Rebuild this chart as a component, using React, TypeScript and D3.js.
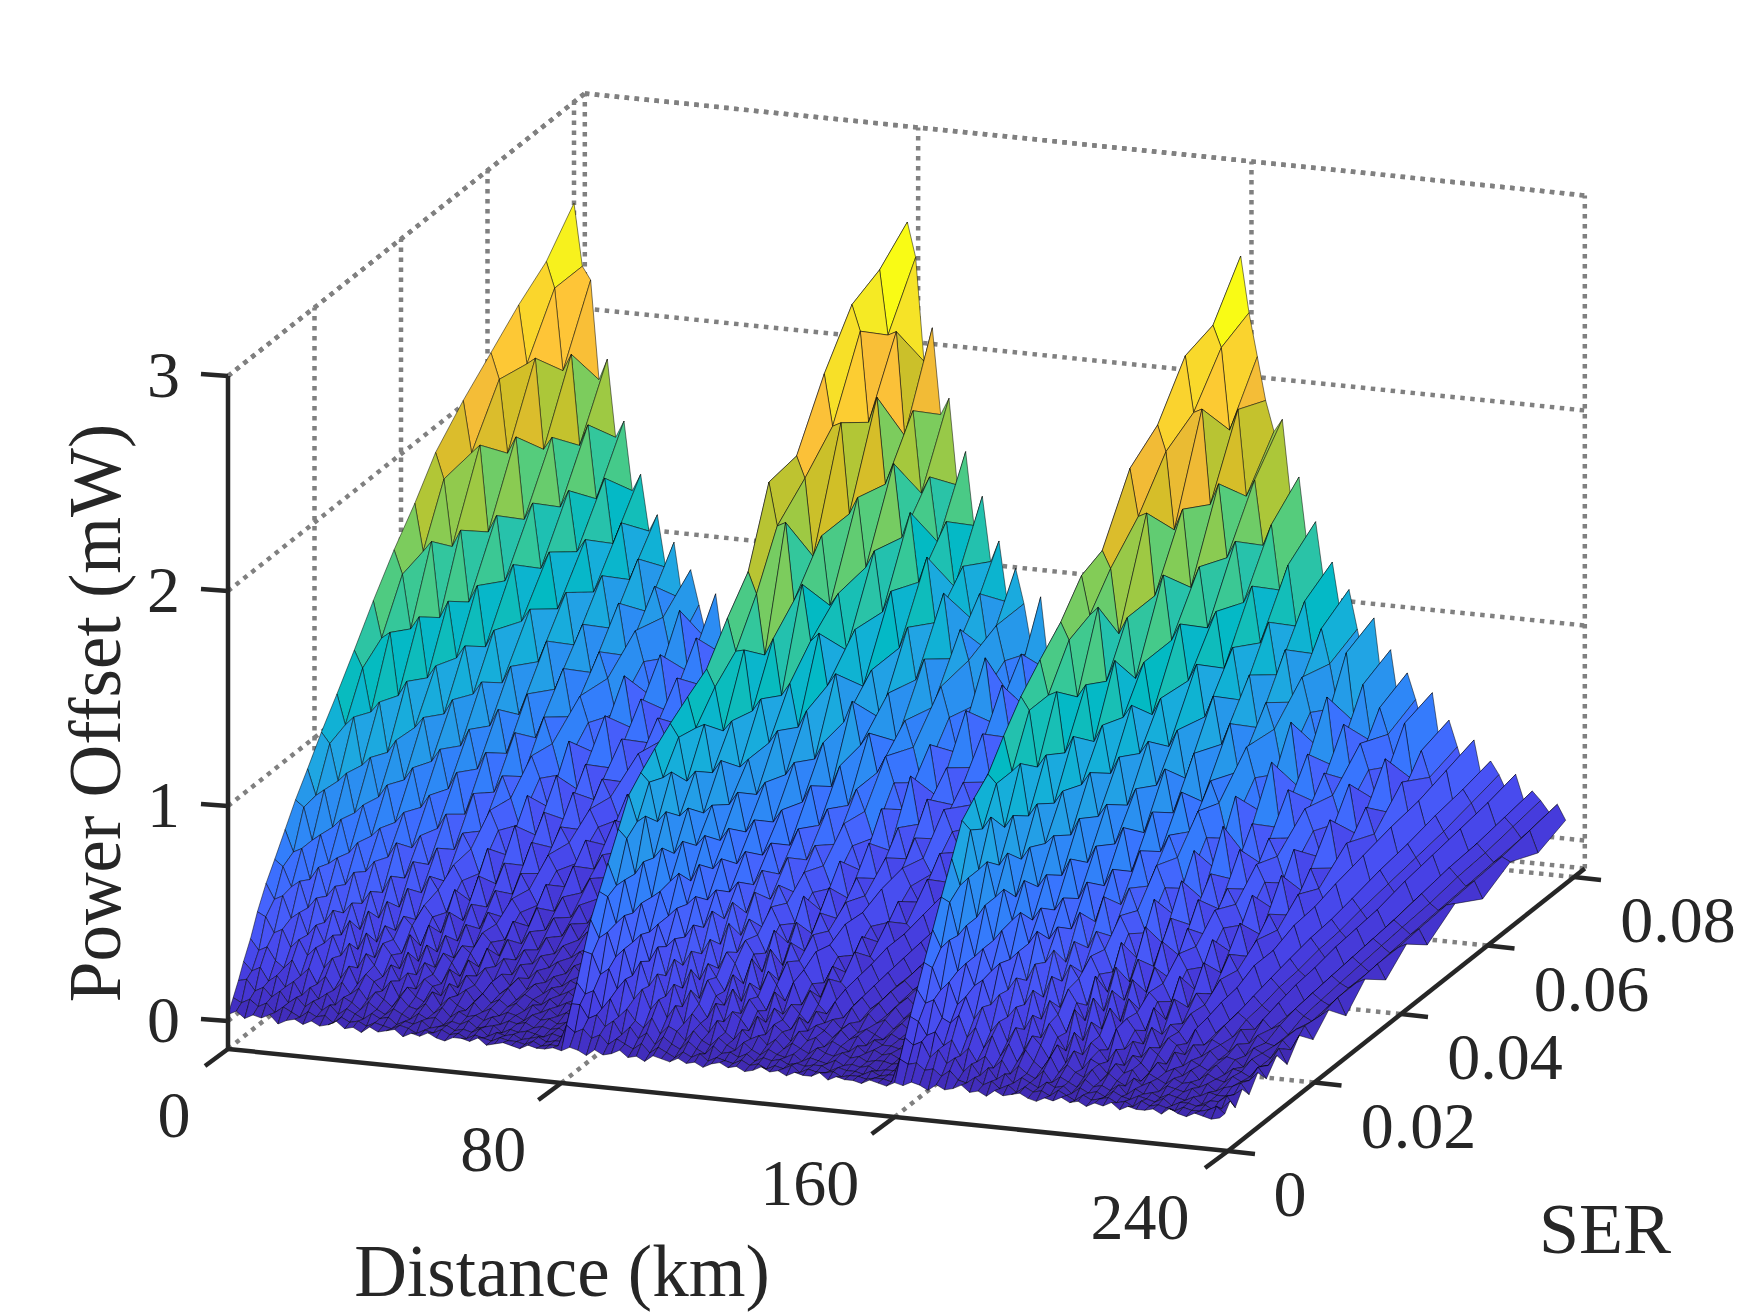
import React from 'react';
import * as d3 from 'd3';

// --- Data ---
const distanceKm = [
  0, 2, 4, 6, 8, 10, 12, 14, 16, 18, 20, 22, 24, 26, 28, 30, 32, 34, 36, 38,
  40, 42, 44, 46, 48, 50, 52, 54, 56, 58, 60, 62, 64, 66, 68, 70, 72, 74, 76, 78,
  80, 82, 84, 86, 88, 90, 92, 94, 96, 98, 100, 102, 104, 106, 108, 110, 112, 114, 116, 118,
  120, 122, 124, 126, 128, 130, 132, 134, 136, 138, 140, 142, 144, 146, 148, 150, 152, 154, 156, 158,
  160, 162, 164, 166, 168, 170, 172, 174, 176, 178, 180, 182, 184, 186, 188, 190, 192, 194, 196, 198,
  200, 202, 204, 206, 208, 210, 212, 214, 216, 218, 220, 222, 224, 226, 228, 230, 232, 234, 236, 238,
];
const serValues = [
  0, 0.0012, 0.0024, 0.0036, 0.0052, 0.0068, 0.0088, 0.0108, 0.0132, 0.0156, 0.0184, 0.0216,
  0.0252, 0.0292, 0.0336, 0.0384, 0.0432, 0.048, 0.0544, 0.0608, 0.0672, 0.0736, 0.08,
];

const powerSpan1 = [
  [.03,.05,.02,.04,.03,.05,.01,.03,.04,.02,.04,.02,.03,.05,.02,.03,.01,.04,.02,.03,.04,.01,.03,.02,.04,.02,.01,.03,.03,.02,.04,.01,.02,.03,.02,.01,.03,.02,.02,.03],
  [.09,.07,.09,.06,.08,.04,.07,.05,.03,.06,.04,.05,.02,.05,.03,.04,.02,.04,.03,.02,.04,.03,.01,.03,.02,.04,.02,.03,.01,.03,.02,.01,.03,.02,.02,.01,.03,.01,.02,.02],
  [.15,.16,.11,.13,.09,.12,.07,.10,.06,.09,.05,.08,.04,.07,.05,.03,.06,.04,.05,.02,.04,.03,.05,.02,.03,.04,.02,.03,.02,.04,.01,.03,.02,.03,.01,.02,.03,.01,.02,.02],
  [.22,.18,.20,.14,.17,.12,.15,.09,.13,.08,.11,.06,.10,.08,.05,.09,.06,.04,.07,.05,.03,.06,.04,.05,.02,.04,.03,.05,.02,.03,.04,.01,.03,.02,.03,.02,.01,.03,.02,.02],
  [.30,.25,.27,.21,.18,.22,.15,.19,.12,.16,.10,.14,.09,.12,.07,.11,.08,.05,.10,.06,.05,.08,.04,.07,.03,.06,.04,.05,.03,.05,.02,.04,.03,.04,.02,.03,.02,.03,.01,.02],
  [.40,.38,.31,.33,.25,.29,.22,.26,.17,.22,.13,.19,.11,.16,.13,.09,.14,.07,.12,.08,.06,.11,.05,.09,.06,.04,.08,.04,.06,.03,.05,.04,.02,.05,.03,.04,.02,.03,.02,.02],
  [.50,.43,.45,.35,.38,.28,.33,.25,.29,.20,.26,.15,.22,.17,.12,.18,.11,.15,.08,.13,.10,.06,.12,.07,.10,.05,.09,.05,.07,.04,.06,.03,.06,.03,.05,.02,.04,.03,.02,.03],
  [.58,.55,.46,.49,.37,.42,.31,.37,.26,.33,.20,.28,.17,.24,.19,.13,.21,.11,.17,.12,.08,.15,.07,.13,.09,.05,.11,.06,.09,.04,.07,.05,.03,.06,.03,.05,.04,.02,.04,.02],
  [.68,.58,.60,.46,.52,.39,.44,.32,.37,.25,.34,.20,.28,.22,.16,.25,.13,.21,.11,.18,.14,.08,.16,.09,.13,.07,.11,.06,.10,.05,.08,.04,.07,.04,.06,.03,.05,.03,.03,.03],
  [.78,.75,.60,.63,.50,.53,.41,.47,.33,.39,.27,.35,.22,.29,.25,.16,.26,.14,.22,.12,.18,.15,.09,.18,.10,.14,.07,.12,.06,.10,.05,.08,.04,.07,.05,.03,.06,.03,.04,.03],
  [.88,.76,.79,.62,.66,.51,.56,.43,.48,.34,.42,.28,.37,.23,.30,.25,.18,.28,.15,.23,.13,.20,.16,.10,.18,.09,.14,.08,.12,.07,.10,.05,.09,.05,.07,.04,.06,.04,.05,.03],
  [1.00,.95,.78,.82,.64,.68,.54,.58,.45,.52,.36,.44,.30,.38,.32,.22,.33,.19,.27,.16,.24,.19,.12,.21,.11,.17,.09,.15,.08,.12,.07,.10,.06,.09,.05,.07,.04,.06,.04,.04],
  [1.12,.98,1.02,.80,.84,.66,.72,.55,.60,.44,.50,.37,.45,.30,.38,.31,.22,.34,.20,.28,.16,.25,.19,.13,.22,.12,.18,.10,.16,.09,.13,.07,.11,.06,.09,.05,.08,.05,.06,.04],
  [1.26,1.18,.98,1.03,.80,.86,.68,.74,.56,.62,.47,.54,.38,.46,.39,.28,.40,.24,.34,.20,.30,.23,.16,.26,.14,.21,.12,.18,.10,.15,.09,.12,.08,.11,.07,.09,.06,.07,.05,.05],
  [1.42,1.25,1.28,.99,1.06,.85,.90,.70,.76,.58,.66,.47,.57,.40,.50,.41,.30,.44,.26,.37,.23,.32,.25,.18,.28,.16,.23,.14,.19,.12,.16,.10,.14,.09,.11,.07,.09,.06,.07,.05],
  [1.58,1.47,1.22,1.28,1.00,1.06,.84,.91,.70,.78,.60,.68,.50,.58,.48,.36,.50,.32,.43,.27,.37,.30,.21,.32,.19,.26,.16,.22,.14,.19,.12,.16,.11,.13,.09,.11,.08,.09,.06,.07],
  [1.72,1.50,1.55,1.20,1.28,1.02,1.08,.86,.92,.72,.80,.60,.70,.50,.60,.50,.37,.52,.32,.45,.28,.38,.30,.22,.34,.20,.28,.17,.24,.15,.20,.13,.17,.11,.14,.09,.12,.08,.09,.06],
  [1.88,1.76,1.45,1.53,1.20,1.28,1.00,1.08,.84,.92,.70,.80,.60,.70,.58,.44,.60,.38,.50,.34,.44,.36,.26,.38,.23,.32,.19,.27,.16,.23,.14,.19,.13,.16,.11,.13,.09,.11,.08,.08],
  [2.02,1.78,1.82,1.42,1.50,1.20,1.28,1.02,1.08,.84,.94,.72,.82,.60,.70,.58,.44,.62,.38,.52,.32,.46,.36,.26,.38,.24,.33,.20,.28,.18,.23,.15,.20,.13,.17,.11,.14,.09,.11,.08],
  [2.14,2.02,1.68,1.76,1.38,1.46,1.16,1.24,.98,1.06,.82,.92,.70,.80,.68,.52,.70,.46,.60,.40,.52,.43,.31,.46,.28,.38,.24,.32,.20,.28,.17,.23,.15,.20,.13,.16,.11,.13,.09,.10],
  [2.26,1.99,2.02,1.60,1.66,1.34,1.42,1.14,1.20,.96,1.04,.80,.92,.68,.80,.66,.50,.70,.44,.60,.38,.52,.42,.30,.44,.27,.38,.24,.33,.21,.28,.18,.24,.16,.20,.13,.17,.11,.14,.10],
  [2.36,2.24,1.86,1.94,1.52,1.62,1.28,1.38,1.08,1.18,.92,1.02,.78,.90,.76,.58,.80,.52,.68,.46,.60,.50,.36,.52,.32,.44,.28,.38,.24,.32,.20,.28,.18,.23,.15,.19,.13,.16,.11,.12],
  [2.53,2.24,2.18,1.72,1.82,1.46,1.54,1.22,1.30,1.04,1.12,.88,1.00,.74,.88,.72,.56,.78,.50,.68,.44,.60,.48,.36,.52,.33,.46,.28,.40,.25,.34,.22,.29,.19,.24,.16,.20,.14,.16,.11],
];
const powerSpan2 = [
  [.02,.04,.03,.01,.04,.02,.03,.05,.02,.03,.01,.04,.03,.02,.04,.02,.03,.01,.03,.04,.02,.03,.01,.02,.04,.02,.03,.01,.03,.02,.02,.04,.01,.03,.02,.02,.01,.03,.02,.01],
  [.12,.09,.11,.07,.09,.05,.08,.06,.04,.07,.03,.06,.04,.02,.05,.03,.05,.02,.04,.03,.02,.04,.02,.03,.01,.03,.02,.04,.01,.03,.02,.02,.03,.01,.02,.02,.01,.02,.02,.01],
  [.20,.20,.14,.16,.11,.14,.08,.12,.07,.10,.05,.09,.06,.04,.08,.05,.03,.07,.04,.05,.03,.05,.02,.04,.03,.04,.02,.03,.02,.03,.03,.01,.03,.02,.02,.01,.03,.01,.02,.02],
  [.28,.23,.25,.17,.22,.14,.18,.13,.10,.15,.08,.12,.10,.06,.11,.07,.05,.09,.06,.04,.08,.05,.03,.06,.04,.03,.05,.02,.04,.03,.02,.04,.02,.03,.02,.03,.01,.02,.02,.02],
  [.40,.39,.30,.33,.24,.29,.20,.25,.16,.21,.13,.19,.11,.16,.12,.08,.14,.09,.06,.11,.07,.09,.05,.08,.04,.07,.05,.03,.06,.04,.03,.05,.03,.04,.02,.03,.03,.02,.03,.02],
  [.52,.44,.47,.36,.40,.28,.35,.24,.30,.20,.26,.16,.24,.18,.12,.19,.11,.16,.13,.08,.15,.07,.12,.09,.05,.10,.06,.08,.04,.07,.05,.03,.06,.03,.05,.03,.04,.02,.03,.03],
  [.62,.60,.48,.52,.40,.44,.32,.39,.26,.34,.21,.30,.17,.26,.19,.15,.23,.12,.19,.14,.09,.16,.11,.07,.13,.07,.10,.08,.05,.09,.05,.07,.03,.06,.04,.04,.03,.04,.02,.03],
  [.72,.62,.65,.50,.55,.42,.46,.36,.40,.28,.35,.22,.30,.24,.18,.26,.14,.23,.17,.11,.20,.10,.15,.11,.07,.13,.08,.10,.06,.09,.05,.07,.05,.03,.06,.04,.04,.03,.03,.02],
  [.84,.80,.64,.70,.54,.57,.46,.50,.37,.43,.30,.37,.24,.32,.27,.18,.30,.16,.25,.19,.12,.21,.11,.18,.12,.08,.14,.07,.12,.06,.10,.06,.08,.04,.07,.04,.05,.03,.04,.03],
  [.96,.84,.87,.68,.73,.58,.62,.48,.52,.38,.46,.31,.41,.28,.34,.28,.20,.31,.17,.26,.14,.23,.17,.11,.20,.10,.16,.09,.13,.08,.11,.06,.10,.05,.08,.05,.06,.04,.05,.03],
  [1.02,.98,.80,.85,.66,.72,.54,.62,.46,.51,.38,.46,.31,.39,.32,.24,.35,.19,.30,.22,.16,.27,.13,.21,.14,.10,.17,.09,.14,.08,.12,.07,.10,.06,.08,.05,.07,.04,.05,.04],
  [1.08,.95,.98,.78,.82,.65,.70,.55,.60,.45,.50,.36,.46,.30,.40,.32,.24,.34,.21,.29,.17,.25,.20,.13,.23,.12,.18,.10,.15,.09,.12,.08,.11,.06,.09,.06,.07,.05,.05,.04],
  [1.14,1.08,.88,.93,.74,.78,.62,.68,.52,.58,.43,.50,.37,.44,.36,.27,.40,.23,.33,.25,.18,.29,.15,.24,.15,.11,.20,.10,.16,.09,.13,.08,.11,.07,.09,.06,.08,.05,.06,.04],
  [1.20,1.06,1.08,.86,.92,.72,.78,.60,.66,.50,.56,.42,.50,.34,.44,.35,.27,.38,.24,.32,.20,.28,.22,.15,.25,.14,.20,.12,.17,.10,.14,.09,.12,.08,.10,.07,.08,.05,.06,.05],
  [1.26,1.18,.98,1.03,.82,.86,.70,.76,.58,.64,.48,.56,.42,.49,.40,.30,.43,.26,.36,.28,.20,.32,.17,.27,.17,.13,.22,.11,.18,.10,.15,.09,.13,.08,.11,.07,.09,.06,.07,.05],
  [1.42,1.27,1.28,1.00,1.06,.86,.92,.72,.78,.60,.68,.50,.58,.42,.52,.42,.31,.44,.28,.38,.24,.34,.26,.19,.30,.17,.24,.15,.20,.13,.17,.11,.15,.09,.12,.08,.10,.07,.08,.06],
  [1.56,1.46,1.18,1.26,1.00,1.06,.86,.94,.72,.80,.60,.70,.52,.60,.50,.38,.52,.33,.44,.30,.40,.31,.24,.34,.21,.28,.17,.23,.15,.20,.13,.17,.11,.14,.10,.11,.08,.09,.07,.06],
  [1.90,1.70,1.72,1.36,1.44,1.18,1.22,.98,1.04,.82,.92,.72,.78,.60,.68,.56,.44,.60,.38,.50,.32,.46,.36,.27,.40,.23,.33,.19,.27,.17,.23,.15,.20,.13,.16,.11,.13,.09,.11,.08],
  [1.92,1.82,1.46,1.56,1.24,1.30,1.04,1.14,.88,.96,.74,.86,.64,.74,.62,.46,.64,.40,.54,.37,.48,.38,.29,.41,.25,.34,.21,.28,.18,.24,.15,.20,.13,.17,.12,.14,.10,.11,.08,.07],
  [2.20,1.96,1.98,1.56,1.64,1.32,1.40,1.12,1.22,.96,1.06,.82,.92,.70,.80,.66,.50,.70,.44,.60,.38,.52,.42,.30,.46,.27,.38,.23,.32,.20,.27,.18,.24,.15,.20,.13,.16,.11,.13,.09],
  [2.42,2.30,1.88,2.00,1.60,1.70,1.36,1.48,1.16,1.28,.98,1.12,.82,.96,.82,.62,.84,.54,.72,.48,.64,.52,.38,.54,.33,.46,.28,.38,.24,.33,.21,.27,.18,.23,.16,.19,.13,.16,.11,.11],
  [2.48,2.18,2.20,1.72,1.84,1.46,1.54,1.24,1.34,1.04,1.14,.90,1.02,.76,.88,.72,.54,.76,.50,.66,.42,.58,.46,.34,.50,.31,.42,.26,.36,.23,.30,.20,.26,.17,.22,.15,.18,.12,.15,.10],
  [2.60,2.44,1.96,2.12,1.72,1.80,1.40,1.56,1.22,1.36,1.06,1.16,.88,1.04,.88,.66,.92,.58,.78,.52,.68,.56,.42,.58,.36,.50,.31,.42,.27,.36,.23,.30,.20,.26,.17,.22,.15,.18,.13,.12],
];
const powerSpan3 = [
  [.03,.02,.04,.03,.01,.04,.02,.03,.05,.02,.03,.01,.04,.02,.03,.04,.02,.01,.03,.02,.04,.02,.03,.01,.03,.02,.04,.01,.03,.02,.02,.03,.01,.04,.02,.01,.03,.02,.01,.02],
  [.12,.10,.11,.08,.09,.06,.09,.05,.04,.07,.04,.06,.03,.05,.02,.05,.03,.04,.02,.05,.03,.01,.04,.02,.03,.04,.02,.03,.01,.04,.02,.03,.02,.01,.03,.02,.02,.03,.05,.02],
  [.20,.17,.19,.12,.16,.10,.13,.07,.11,.06,.10,.05,.08,.04,.07,.05,.03,.06,.04,.05,.02,.05,.03,.04,.02,.05,.03,.02,.04,.03,.02,.04,.01,.03,.03,.02,.03,.01,.02,.06],
  [.28,.26,.20,.22,.16,.19,.12,.16,.10,.13,.08,.12,.06,.10,.07,.05,.09,.04,.07,.05,.03,.07,.04,.05,.03,.06,.02,.05,.03,.04,.02,.04,.03,.02,.04,.01,.03,.03,.06,.01],
  [.38,.32,.34,.26,.24,.28,.18,.23,.14,.20,.11,.17,.09,.15,.10,.07,.13,.06,.10,.07,.05,.09,.04,.08,.05,.03,.07,.04,.06,.02,.05,.04,.03,.05,.02,.04,.03,.03,.04,.07],
  [.48,.46,.36,.40,.30,.34,.24,.30,.19,.24,.15,.22,.12,.19,.15,.09,.16,.08,.14,.06,.11,.09,.05,.10,.06,.08,.03,.07,.05,.03,.06,.04,.05,.03,.05,.02,.04,.05,.07,.02],
  [.60,.52,.56,.42,.46,.36,.39,.28,.33,.23,.28,.18,.25,.15,.22,.16,.10,.19,.09,.15,.12,.07,.13,.06,.11,.08,.04,.09,.05,.07,.04,.07,.03,.06,.04,.03,.06,.04,.05,.09],
  [.72,.70,.55,.60,.46,.50,.40,.44,.32,.38,.26,.33,.20,.29,.23,.15,.26,.12,.21,.15,.09,.19,.10,.14,.07,.12,.09,.05,.11,.05,.08,.06,.04,.07,.03,.06,.05,.03,.08,.03],
  [.86,.74,.78,.60,.66,.50,.55,.42,.46,.33,.41,.26,.36,.22,.31,.25,.17,.28,.14,.24,.11,.20,.15,.09,.17,.08,.13,.10,.06,.11,.06,.09,.05,.07,.06,.03,.07,.04,.05,.10],
  [1.00,.96,.78,.82,.66,.70,.56,.60,.46,.52,.38,.44,.30,.38,.32,.20,.34,.18,.28,.14,.25,.19,.11,.22,.10,.15,.12,.07,.14,.07,.10,.08,.05,.09,.04,.08,.06,.04,.09,.02],
  [1.06,.92,.98,.76,.82,.62,.70,.52,.58,.44,.50,.34,.44,.30,.38,.30,.22,.34,.19,.29,.15,.24,.20,.12,.22,.11,.16,.09,.15,.08,.12,.07,.11,.05,.09,.06,.05,.08,.04,.11],
  [1.12,1.08,.88,.94,.74,.80,.62,.68,.52,.58,.44,.52,.36,.44,.36,.26,.40,.22,.33,.18,.30,.23,.15,.27,.13,.20,.15,.09,.17,.09,.13,.10,.06,.11,.07,.09,.05,.08,.10,.04],
  [1.24,1.08,1.12,.88,.94,.76,.80,.62,.70,.52,.60,.42,.54,.36,.46,.38,.27,.42,.24,.36,.19,.31,.24,.15,.28,.14,.21,.12,.18,.10,.15,.11,.08,.13,.07,.11,.08,.06,.09,.12],
  [1.36,1.30,1.04,1.10,.88,.94,.74,.82,.62,.70,.52,.60,.44,.52,.42,.32,.48,.28,.40,.23,.36,.28,.19,.32,.17,.26,.19,.12,.22,.11,.17,.13,.09,.15,.08,.12,.09,.07,.11,.03],
  [1.46,1.30,1.32,1.04,1.12,.90,.96,.76,.82,.64,.72,.52,.62,.46,.56,.46,.34,.50,.30,.42,.26,.38,.30,.19,.33,.18,.26,.16,.22,.13,.19,.14,.11,.16,.09,.13,.10,.08,.11,.13],
  [1.56,1.48,1.22,1.28,1.02,1.10,.88,.96,.74,.82,.62,.72,.54,.62,.52,.38,.56,.34,.46,.30,.40,.33,.24,.38,.20,.30,.23,.15,.26,.14,.21,.16,.11,.18,.10,.14,.11,.08,.12,.05],
  [1.70,1.52,1.56,1.22,1.32,1.06,1.12,.90,.96,.76,.84,.64,.74,.56,.66,.54,.40,.60,.36,.50,.32,.44,.36,.24,.40,.22,.32,.19,.27,.16,.22,.17,.13,.19,.11,.15,.12,.09,.12,.14],
  [1.74,1.66,1.36,1.44,1.16,1.24,1.00,1.08,.86,.94,.72,.84,.62,.72,.62,.46,.66,.40,.54,.36,.48,.40,.28,.44,.25,.36,.27,.18,.30,.17,.24,.19,.14,.20,.12,.16,.13,.10,.13,.06],
  [2.02,1.80,1.82,1.44,1.54,1.24,1.32,1.06,1.14,.90,1.00,.78,.88,.66,.78,.64,.48,.72,.42,.60,.38,.52,.42,.30,.48,.26,.38,.23,.33,.19,.27,.21,.16,.23,.14,.18,.14,.11,.14,.15],
  [2.12,2.00,1.64,1.74,1.38,1.48,1.20,1.28,1.02,1.12,.88,1.00,.76,.88,.76,.56,.80,.50,.66,.44,.58,.48,.36,.54,.31,.44,.32,.22,.36,.21,.29,.23,.17,.25,.15,.20,.16,.12,.15,.07],
  [2.34,2.08,2.10,1.66,1.76,1.42,1.50,1.22,1.30,1.04,1.14,.90,1.02,.78,.90,.74,.58,.82,.50,.70,.44,.62,.50,.36,.56,.31,.46,.27,.38,.24,.32,.25,.19,.27,.17,.21,.17,.13,.16,.14],
  [2.38,2.28,1.90,2.00,1.60,1.68,1.38,1.48,1.18,1.30,1.02,1.14,.90,1.02,.86,.66,.92,.60,.78,.52,.68,.56,.42,.62,.36,.50,.38,.26,.42,.24,.34,.28,.20,.29,.18,.23,.19,.14,.18,.08],
  [2.60,2.34,2.14,1.94,1.80,1.86,1.50,1.60,1.28,1.40,1.12,1.22,.98,1.10,.92,.74,.98,.66,.84,.58,.74,.62,.48,.66,.40,.54,.42,.30,.46,.27,.37,.31,.23,.32,.20,.25,.21,.16,.20,.13],
];

const distanceTicks = [0, 80, 160, 240];
const distanceLabelDx = [-54, -68, -85, -88];
const serTicks = [0, 0.02, 0.04, 0.06, 0.08];
const serTickLabels = ['0', '0.02', '0.04', '0.06', '0.08'];
const powerTicks = [0, 1, 2, 3];

const parula = [
  '#3e26a8', '#4432cb', '#4741e5', '#4852f4', '#4563fd', '#3875fe', '#2e87f7', '#2796eb',
  '#20a5e3', '#12b1d6', '#02bac3', '#24c1ae', '#37c897', '#57cc7a', '#81cc59', '#abc739',
  '#d1bf27', '#f0ba36', '#fec338', '#fad52d', '#f5e924', '#f9fb15',
];

// --- Projection: the MATLAB view flattened to three screen vectors ---
const SER_MAX = 0.0825;
const Z_MIN = -0.13;
const originX = 228;
const originY = 1049;

const dToX = d3.scaleLinear().domain([0, 240]).range([0, 1000]);
const dToY = d3.scaleLinear().domain([0, 240]).range([0, 102]);
const sToX = d3.scaleLinear().domain([0, 0.08]).range([0, 346]);
const sToY = d3.scaleLinear().domain([0, 0.08]).range([0, -274]);
const zToY = d3.scaleLinear().domain([Z_MIN, 3]).range([0, -673]);

const project = (d: number, s: number, z: number): [number, number] => [
  originX + dToX(d) + sToX(s),
  originY + dToY(d) + sToY(s) + zToY(z),
];

const colour = d3.scaleSequential(d3.piecewise(d3.interpolateRgb, parula)).domain([0, 2.6]).clamp(true);

const line = d3.line<[number, number]>();

const gridPaths = (): string[] => {
  const out: string[] = [];
  const seg = (a: [number, number, number], b: [number, number, number]) =>
    out.push(line([project(a[0], a[1], a[2]), project(b[0], b[1], b[2])]) as string);
  // box edges
  seg([0, 0, 3], [0, SER_MAX, 3]);
  seg([0, SER_MAX, 3], [240, SER_MAX, 3]);
  seg([0, SER_MAX, Z_MIN], [0, SER_MAX, 3]);
  seg([240, SER_MAX, Z_MIN], [240, SER_MAX, 3]);
  seg([0, 0, Z_MIN], [0, SER_MAX, Z_MIN]);
  seg([0, SER_MAX, Z_MIN], [240, SER_MAX, Z_MIN]);
  // grid on the walls
  powerTicks.forEach(z => {
    seg([0, 0, z], [0, SER_MAX, z]);
    seg([0, SER_MAX, z], [240, SER_MAX, z]);
  });
  serTicks.slice(1).forEach(s => {
    seg([0, s, Z_MIN], [0, s, 3]);
    seg([0, s, Z_MIN], [240, s, Z_MIN]);
  });
  distanceTicks.slice(1, 3).forEach(d => {
    seg([d, 0, Z_MIN], [d, SER_MAX, Z_MIN]);
    seg([d, SER_MAX, Z_MIN], [d, SER_MAX, 3]);
  });
  return out;
};

const App: React.FC = () => {
  const spans = [powerSpan1, powerSpan2, powerSpan3];
  const powerAt = (j: number, i: number) => {
    const row = spans[Math.floor(i / 40)][j];
    return row[i % 40] ?? row[row.length - 1];
  };

  // far cells first: low distance, high SER
  const cells: { path: string; fill: string }[] = [];
  for (let i = 0; i < distanceKm.length - 1; i++) {
    for (let j = serValues.length - 2; j >= 0; j--) {
      const corners = [
        project(distanceKm[i], serValues[j], powerAt(j, i)),
        project(distanceKm[i + 1], serValues[j], powerAt(j, i + 1)),
        project(distanceKm[i + 1], serValues[j + 1], powerAt(j + 1, i + 1)),
        project(distanceKm[i], serValues[j + 1], powerAt(j + 1, i)),
      ];
      cells.push({ path: (line(corners) as string) + 'Z', fill: colour(powerAt(j + 1, i)) });
    }
  }

  const axisColor = '#262626';
  const font = "'Liberation Serif', 'Times New Roman', serif";
  const [zx] = project(0, 0, 0);

  return (
    <svg width={1750} height={1313} style={{ position: 'absolute', left: 0, top: 0, background: '#fff' }}>
      {gridPaths().map((p, i) => (
        <path key={i} d={p} fill="none" stroke="#808080" strokeWidth={4.5} strokeDasharray="4.5 5.5" />
      ))}

      <g strokeWidth={0.85} strokeLinejoin="round">
        {cells.map((c, i) => (
          <path key={i} d={c.path} fill={c.fill} stroke="#000" strokeOpacity={0.58} />
        ))}
      </g>

      {/* axes */}
      <g stroke={axisColor} strokeWidth={4.5} fill="none">
        <path d={line([project(0, 0, Z_MIN), project(0, 0, 3)]) as string} />
        <path d={line([project(0, 0, Z_MIN), project(240, 0, Z_MIN)]) as string} />
        <path d={line([project(240, 0, Z_MIN), project(240, SER_MAX, Z_MIN)]) as string} />
        {powerTicks.map(z => {
          const [x, y] = project(0, 0, z);
          return <line key={z} x1={x} y1={y} x2={x - 27} y2={y - 2} />;
        })}
        {distanceTicks.map(d => {
          const [x, y] = project(d, 0, Z_MIN);
          return <line key={d} x1={x} y1={y} x2={x - 23} y2={y + 17} />;
        })}
        {serTicks.map(s => {
          const [x, y] = project(240, s, Z_MIN);
          return <line key={s} x1={x} y1={y} x2={x + 27} y2={y + 3} />;
        })}
      </g>

      {/* labels */}
      <g fontFamily={font} fontSize={66} fill={axisColor}>
        {powerTicks.map(z => (
          <text key={z} x={zx - 48} y={project(0, 0, z)[1] + 21} textAnchor="end">{z}</text>
        ))}
        {distanceTicks.map((d, i) => {
          const [x, y] = project(d, 0, Z_MIN);
          return <text key={d} x={x + distanceLabelDx[i]} y={y + 88} textAnchor="middle">{d}</text>;
        })}
        {serTicks.map((s, i) => {
          const [x, y] = project(240, s, Z_MIN);
          return <text key={s} x={x + (i === 0 ? 62 : 104)} y={y + 65} textAnchor="middle">{serTickLabels[i]}</text>;
        })}
      </g>
      <g fontFamily={font} fontSize={73} fill={axisColor}>
        <text x={562} y={1296} textAnchor="middle">Distance (km)</text>
        <text x={1605} y={1253} textAnchor="middle" fontSize={72}>SER</text>
        <text transform="translate(120,713) rotate(-90)" textAnchor="middle">Power Offset (mW)</text>
      </g>
    </svg>
  );
};

export default App;
